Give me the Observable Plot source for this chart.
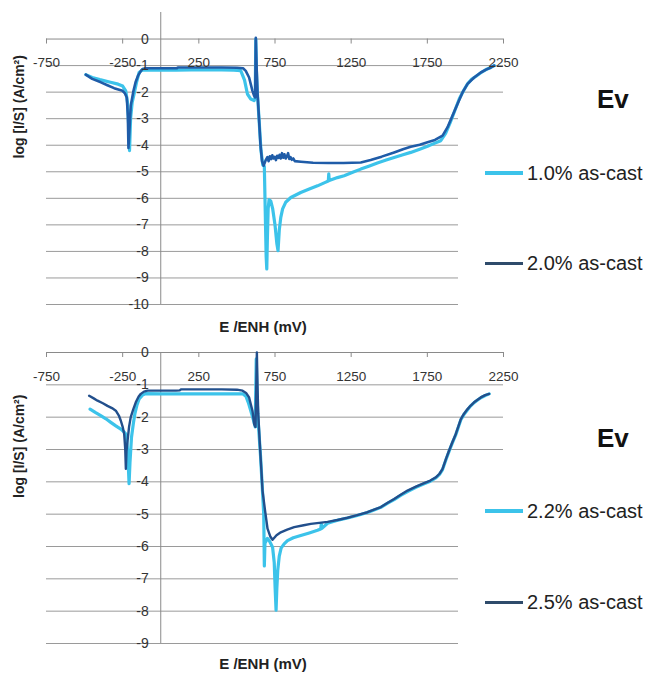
<!DOCTYPE html>
<html><head><meta charset="utf-8">
<script src="https://cdn.jsdelivr.net/npm/d3@7"></script>
<script src="https://cdn.jsdelivr.net/npm/@observablehq/plot@0.6"></script>
<style>
body{margin:0;background:#fff;font-family:Arial,"Liberation Sans",sans-serif;}
#wrap{position:relative;width:649px;height:677px;overflow:hidden;background:#fff;}
#wrap svg{display:block;}
.box{position:absolute;background:#fff;}
.ev{position:absolute;font-weight:bold;font-size:26px;line-height:26px;color:#111;}
.item{position:absolute;height:24px;display:flex;align-items:center;font-size:20px;color:#222;white-space:nowrap;}
.item .sw{display:inline-block;width:38px;margin-right:4px;}
</style></head><body><div id="wrap"></div>
<script>
// ---- data (E vs ENH in mV, log |I/S| in A/cm2) ----
const xTicks = [-750, -250, 250, 750, 1250, 1750, 2250];
const yTicksTop = [0, -1, -2, -3, -4, -5, -6, -7, -8, -9, -10];
const yTicksBottom = [0, -1, -2, -3, -4, -5, -6, -7, -8, -9];
const seriesTop = ["1.0% as-cast", "2.0% as-cast"];
const seriesBottom = ["2.2% as-cast", "2.5% as-cast"];
const xTitle = "E /ENH (mV)";
const yTitle = "log [I/S] (A/cm²)";
const panelLabel = "Ev";

const cast10 = [[-492,-1.34],[-450,-1.45],[-400,-1.53],[-330,-1.63],[-280,-1.70],[-250,-1.77],[-230,-1.95],[-218,-2.4],[-210,-3.3],[-205,-4.2],[-198,-3.0],[-188,-2.4],[-175,-2.07],[-160,-1.65],[-142,-1.26],[-125,-1.18],[-109,-1.16],[-80,-1.17],[0,-1.17],[100,-1.17],[200,-1.16],[300,-1.16],[400,-1.16],[480,-1.17],[525,-1.19],[550,-1.55],[569,-2.07],[591,-2.26],[613,-2.32],[620,-2.2],[624,0.0],[628,-1.2],[635,-2.1],[645,-3.0],[658,-4.2],[670,-4.75],[680,-4.8],[686,-6.5],[692,-8.2],[696,-8.66],[700,-7.5],[705,-6.4],[711,-6.05],[722,-6.1],[735,-6.4],[750,-7.0],[762,-7.7],[770,-7.97],[778,-7.2],[788,-6.72],[800,-6.4],[820,-6.15],[854,-5.97],[919,-5.78],[975,-5.65],[1029,-5.53],[1080,-5.4],[1100,-5.35],[1103,-5.08],[1106,-5.33],[1160,-5.22],[1204,-5.15],[1260,-5.02],[1313,-4.9],[1370,-4.78],[1422,-4.67],[1480,-4.56],[1532,-4.46],[1590,-4.36],[1641,-4.27],[1700,-4.15],[1751,-4.04],[1800,-3.92],[1838,-3.83],[1870,-3.55],[1900,-3.15],[1930,-2.7],[1960,-2.25],[1990,-1.92],[2014,-1.69],[2040,-1.52],[2070,-1.40],[2101,-1.27],[2135,-1.15],[2167,-1.07],[2190,-1.0]];

const cast20 = [[-492,-1.34],[-450,-1.50],[-393,-1.63],[-350,-1.74],[-306,-1.85],[-251,-1.95],[-235,-2.05],[-223,-2.2],[-216,-2.9],[-212,-4.1],[-206,-3.5],[-197,-2.51],[-179,-1.95],[-165,-1.62],[-149,-1.38],[-130,-1.2],[-120,-1.13],[-100,-1.1],[0,-1.1],[105,-1.1],[115,-1.07],[200,-1.07],[300,-1.07],[400,-1.07],[500,-1.08],[540,-1.1],[558,-1.2],[580,-1.45],[602,-1.95],[613,-2.14],[620,-2.2],[624,0.05],[629,-1.0],[635,-2.0],[645,-3.0],[655,-4.0],[665,-4.6],[675,-4.77],[690,-4.55],[700,-4.45],[708,-4.6],[716,-4.42],[724,-4.52],[732,-4.38],[740,-4.5],[748,-4.44],[756,-4.56],[764,-4.4],[772,-4.48],[780,-4.36],[788,-4.5],[796,-4.3],[804,-4.47],[812,-4.34],[820,-4.5],[828,-4.42],[836,-4.3],[844,-4.52],[852,-4.45],[860,-4.55],[870,-4.5],[880,-4.6],[920,-4.62],[1000,-4.66],[1100,-4.67],[1200,-4.67],[1313,-4.65],[1378,-4.56],[1450,-4.43],[1532,-4.27],[1590,-4.15],[1641,-4.06],[1700,-3.98],[1751,-3.89],[1800,-3.8],[1850,-3.64],[1882,-3.33],[1915,-2.89],[1948,-2.45],[1981,-2.01],[2014,-1.69],[2057,-1.45],[2101,-1.26],[2135,-1.15],[2167,-1.07],[2188,-1.0]];

const cast22 = [[-464,-1.75],[-430,-1.85],[-394,-1.95],[-360,-2.05],[-328,-2.16],[-295,-2.27],[-262,-2.37],[-240,-2.46],[-229,-2.52],[-218,-3.0],[-212,-3.6],[-208,-4.06],[-202,-3.4],[-192,-2.62],[-180,-2.2],[-170,-1.9],[-156,-1.62],[-142,-1.44],[-120,-1.32],[-98,-1.27],[0,-1.28],[100,-1.28],[200,-1.28],[300,-1.28],[400,-1.28],[500,-1.28],[540,-1.28],[559,-1.35],[575,-1.55],[591,-1.8],[609,-2.1],[620,-2.3],[627,-0.2],[633,-1.5],[642,-2.3],[655,-3.2],[668,-4.3],[676,-5.0],[680,-6.6],[684,-5.9],[700,-5.75],[711,-5.81],[734,-6.02],[745,-6.5],[751,-7.3],[757,-7.97],[762,-7.3],[768,-6.74],[778,-6.3],[790,-6.05],[810,-5.92],[832,-5.82],[870,-5.73],[919,-5.66],[975,-5.58],[1029,-5.5],[1050,-5.46],[1054,-5.3],[1058,-5.44],[1095,-5.28],[1150,-5.2],[1226,-5.12],[1290,-5.04],[1357,-4.95],[1400,-4.87],[1445,-4.79],[1490,-4.66],[1532,-4.55],[1575,-4.42],[1620,-4.3],[1675,-4.17],[1729,-4.06],[1770,-3.98],[1806,-3.88],[1830,-3.77],[1850,-3.62],[1872,-3.32],[1893,-3.05],[1915,-2.79],[1937,-2.54],[1955,-2.29],[1970,-2.08],[1990,-1.92],[2014,-1.77],[2035,-1.65],[2057,-1.55],[2080,-1.47],[2101,-1.4],[2130,-1.33],[2156,-1.28]];

const cast25 = [[-470,-1.34],[-440,-1.42],[-415,-1.49],[-380,-1.57],[-350,-1.65],[-320,-1.72],[-295,-1.80],[-275,-1.95],[-262,-2.11],[-250,-2.3],[-240,-2.52],[-233,-3.0],[-229,-3.6],[-225,-3.05],[-218,-2.73],[-208,-2.3],[-197,-2.0],[-180,-1.75],[-164,-1.54],[-145,-1.36],[-131,-1.28],[-110,-1.21],[-87,-1.18],[0,-1.18],[100,-1.18],[125,-1.17],[135,-1.14],[200,-1.14],[300,-1.14],[400,-1.14],[500,-1.15],[537,-1.18],[560,-1.25],[580,-1.39],[602,-1.8],[613,-2.21],[622,-2.3],[631,0.0],[635,-1.0],[640,-1.9],[650,-2.8],[660,-3.6],[668,-4.27],[685,-4.9],[701,-5.45],[720,-5.7],[734,-5.79],[760,-5.65],[788,-5.56],[830,-5.48],[876,-5.40],[930,-5.35],[985,-5.30],[1040,-5.27],[1095,-5.24],[1160,-5.18],[1226,-5.11],[1290,-5.03],[1357,-4.94],[1400,-4.86],[1445,-4.78],[1490,-4.65],[1532,-4.53],[1575,-4.4],[1620,-4.27],[1675,-4.15],[1729,-4.04],[1770,-3.96],[1806,-3.86],[1830,-3.75],[1850,-3.60],[1872,-3.3],[1893,-3.03],[1915,-2.77],[1937,-2.52],[1955,-2.27],[1970,-2.06],[1990,-1.9],[2014,-1.75],[2035,-1.64],[2057,-1.54],[2080,-1.46],[2101,-1.39],[2130,-1.32],[2156,-1.28]];

// ---- styling ----
const LIGHT = "#3cc3ea";
const FONT = "Arial, 'Liberation Sans', sans-serif";

function makeChart(c) {
  const unit = (c.yDomain[1] - c.yDomain[0]) / (c.height - c.mt - c.mb);
  const lines = c.series.map((s) =>
    Plot.line(s.points, {x: (d) => d[0], y: (d) => d[1], stroke: s.color, strokeWidth: s.width, strokeLinejoin: "round"})
  );
  return Plot.plot({
    width: 649, height: c.height,
    marginLeft: 46, marginRight: 146, marginTop: c.mt, marginBottom: c.mb,
    x: {domain: [-750, 2250], axis: null},
    y: {domain: c.yDomain, axis: null},
    style: {fontFamily: FONT, background: "white", overflow: "visible"},
    marks: [
      Plot.ruleY(c.yTicks.filter((d) => d !== 0), {y: (d) => d, x1: -750, x2: 2250, stroke: "#9a9a9a", strokeWidth: 1}),
      Plot.ruleX([0], {x: (d) => d, y1: c.yDomain[0], y2: c.yDomain[1], stroke: "#8a8a8a"}),
      Plot.ruleY([0], {y: (d) => d, x1: -750, x2: 2250, stroke: "#8a8a8a"}),
      Plot.ruleX(xTicks, {x: (d) => d, y1: 0, y2: -5 * unit, stroke: "#8a8a8a"}),
      ...lines,
      Plot.text(xTicks, {x: (d) => d, y: 0, dy: 24, text: (d) => String(d), fontSize: 13.5, fill: "#333"}),
      Plot.text(c.yTicks, {x: 0, y: (d) => d, dx: -12, textAnchor: "end", text: (d) => String(d), fontSize: 14, fill: "#333"}),
      Plot.text([yTitle], {frameAnchor: "left", dx: -27, rotate: -90, text: (d) => d, fontSize: 14, fontWeight: "bold", fill: "#222"}),
      Plot.text([xTitle], {frameAnchor: "bottom", dx: -12, dy: c.titleDy, text: (d) => d, fontSize: 15, fontWeight: "bold", fill: "#222"})
    ]
  });
}

const wrap = document.getElementById("wrap");
wrap.appendChild(makeChart({
  height: 340, mt: 12, mb: 36, yDomain: [-10, 1], yTicks: yTicksTop, titleDy: 27,
  series: [
    {points: cast10, color: LIGHT, width: 3.2},
    {points: cast20, color: "#1f5ca8", width: 2.6}
  ]
}));
wrap.appendChild(makeChart({
  height: 337, mt: 12, mb: 34, yDomain: [-9, 0], yTicks: yTicksBottom, titleDy: 25,
  series: [
    {points: cast22, color: LIGHT, width: 3.2},
    {points: cast25, color: "#224f8c", width: 2.4}
  ]
}));

// ---- legends (overlapping the plot area, as in the original) ----
function addLegend(boxTop, boxHeight, evY, items) {
  const box = document.createElement("div");
  box.className = "box";
  Object.assign(box.style, {left: "458px", top: boxTop + "px", width: "191px", height: boxHeight + "px"});
  wrap.appendChild(box);
  const ev = document.createElement("div");
  ev.className = "ev";
  ev.textContent = panelLabel;
  Object.assign(ev.style, {left: "597px", top: (evY - 13) + "px"});
  wrap.appendChild(ev);
  items.forEach((it) => {
    const d = document.createElement("div");
    d.className = "item";
    Object.assign(d.style, {left: "485px", top: (it.y - 12) + "px"});
    const sw = document.createElement("span");
    sw.className = "sw";
    sw.style.height = it.h + "px";
    sw.style.background = it.color;
    d.appendChild(sw);
    const t = document.createElement("span");
    t.textContent = it.name;
    d.appendChild(t);
    wrap.appendChild(d);
  });
}
addLegend(110, 200, 99, [
  {name: seriesTop[0], color: LIGHT, h: 4, y: 173},
  {name: seriesTop[1], color: "#2f4b6b", h: 3, y: 263}
]);
addLegend(462, 185, 438, [
  {name: seriesBottom[0], color: LIGHT, h: 4, y: 511},
  {name: seriesBottom[1], color: "#2f4b6b", h: 3, y: 602}
]);
</script></body></html>
